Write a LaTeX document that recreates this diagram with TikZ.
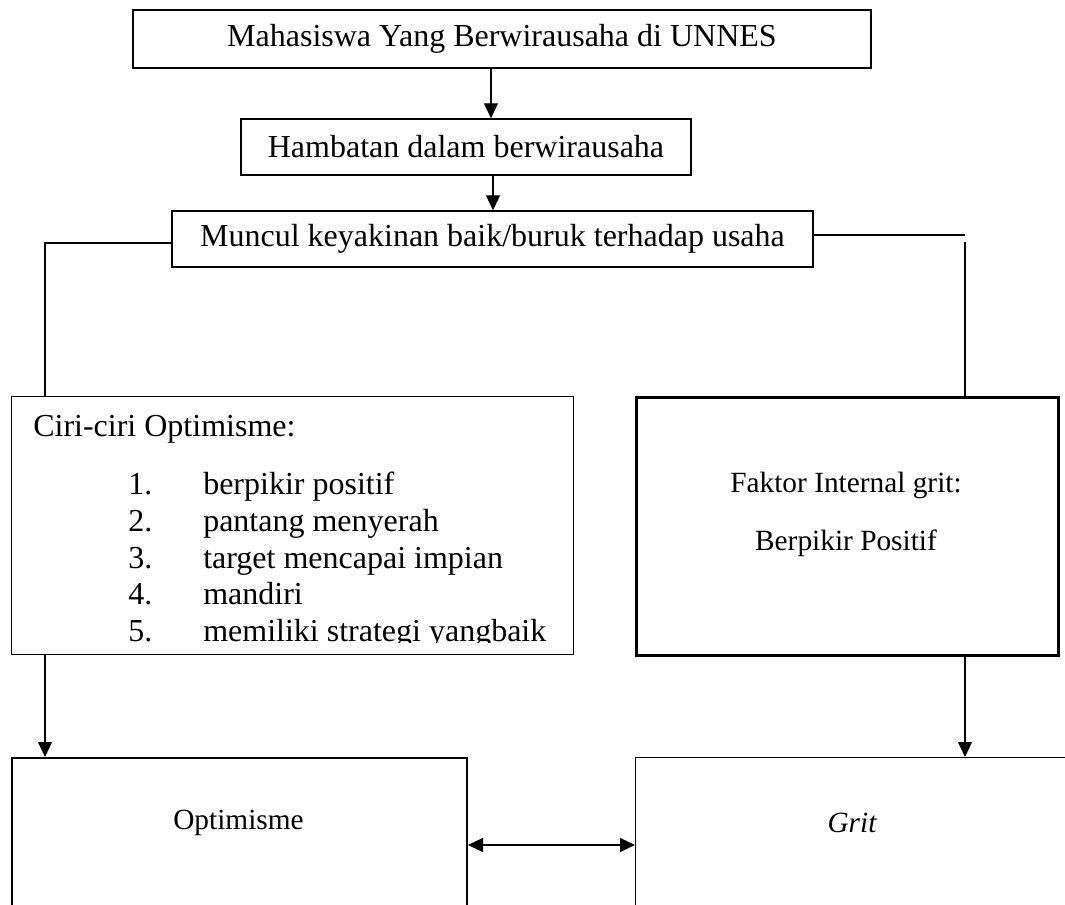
\documentclass[tikz,border=0pt]{standalone}
\usepackage{fontspec}
\setmainfont{Liberation Serif}
\usetikzlibrary{arrows.meta}

\begin{document}
\begin{tikzpicture}[x=0.75pt,y=0.75pt,yscale=-1,xscale=1,
        topbox/.style={draw,line width=1.1pt,inner sep=0pt,font=\fontsize{24}{27.5}\selectfont},
        bigbox/.style={draw,inner sep=0pt,anchor=north west},
        bodytext/.style={inner sep=0.75pt,font=\fontsize{24}{27.5}\selectfont},
        smalltext/.style={inner sep=0.75pt,font=\fontsize{22}{25}\selectfont},
        conn/.style={line width=0.9pt},
        arr/.style={conn,-{Triangle[length=11.25pt,width=10.5pt]}},
        dblarr/.style={conn,{Triangle[length=11.25pt,width=10.5pt]}-{Triangle[length=11.25pt,width=10.5pt]}}]
        \clip (0,0) rectangle (1065,905);
        \fill[white] (0,0) rectangle (1065,905);
        % top chain
        \node[topbox,minimum width=553.5pt,minimum height=43.5pt] (mhs) at (502,39) {Mahasiswa Yang Berwirausaha di UNNES};
        \node[topbox,minimum width=337.5pt,minimum height=42pt] (hambatan) at (466,147) {Hambatan dalam berwirausaha};
        \node[topbox,minimum width=480.75pt,minimum height=42pt] (keyakinan) at (492.5,239) {Muncul keyakinan baik/buruk terhadap usaha};
        % middle boxes
        \node[bigbox,line width=1.1pt,minimum width=421.5pt,minimum height=193.5pt] (ciri) at (11,396) {};
        \node[bigbox,line width=1.9pt,minimum width=316.5pt,minimum height=193.5pt] (faktor) at (635,396) {};
        % bottom boxes (run past the page edge)
        \node[bigbox,line width=1.5pt,minimum width=341.25pt,minimum height=150pt] (optim) at (11,757) {};
        \node[bigbox,line width=1pt,minimum width=348.75pt,minimum height=150pt] (grit) at (635,757) {};
        % helper coordinates for the connectors
        \coordinate (a1) at (491,0);
        \coordinate (a2) at (493,0);
        \coordinate (l1) at (45,243);
        \coordinate (r1) at (965,235);
        \coordinate (r2) at (965,242);
        \coordinate (m1) at (0,845);
        % connectors
        \draw[arr] (mhs.south -| a1) -- (hambatan.north -| a1);
        \draw[arr] (hambatan.south -| a2) -- (keyakinan.north -| a2);
        \draw[conn] (keyakinan.west |- l1) -| (ciri.north -| l1);
        \draw[conn] (keyakinan.east |- r1) -- (r1);
        \draw[conn] (r2) -- (faktor.north -| r2);
        \draw[arr] (ciri.south -| l1) -- (optim.north -| l1);
        \draw[arr] (faktor.south -| r1) -- (grit.north -| r1);
        \draw[dblarr] (optim.east |- m1) -- (grit.west |- m1);
        % Ciri-ciri text
        \begin{scope}
        \clip (11,396) rectangle (573,643);
        \node[bodytext,anchor=base west] (ciritxt) at (32,437) {Ciri-ciri Optimisme:};
        \foreach \n/\t [count=\i from 0] in {1/berpikir positif,2/pantang menyerah,3/target mencapai impian,4/mandiri,5/memiliki strategi yangbaik}{
            \node[bodytext,anchor=base west] (num\n) at (127,495+36.6*\i) {\n.};
            \node[bodytext,anchor=base west] (item\n) at (202,495+36.6*\i) {\t};
        }
        \end{scope}
        % Faktor text
        \node[smalltext] (faktortxt) at (846,485) {Faktor Internal grit:};
        \node[smalltext] (positif) at (846,543) {Berpikir Positif};
        % bottom texts
        \node[smalltext] (optimtxt) at (238.5,823) {Optimisme};
        \node[smalltext] (grittxt) at (852,823) {\itshape Grit};
\end{tikzpicture}
\end{document}
